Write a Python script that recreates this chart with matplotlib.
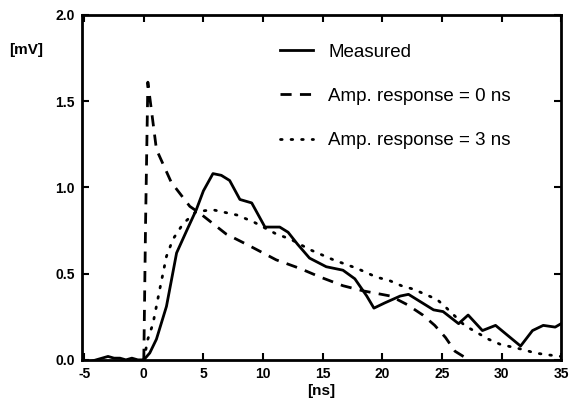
import matplotlib
matplotlib.use("Agg")
import matplotlib.pyplot as plt

plt.rcParams['font.family'] = ['Liberation Sans', 'DejaVu Sans']

# Measured signal
meas_x = [-5, -4.5, -4, -3.5, -3, -2.5, -2, -1.5, -1, -0.5, 0, 0.5, 1.06, 1.9, 2.75, 3.6, 4.4, 5.0, 5.8, 6.5, 7.2, 8.06, 9.05, 10.16,
          11.4, 12.1, 12.9, 13.9, 15.3, 16.7, 17.7, 18.7, 19.3, 20.2, 21.5, 22.2, 24.3, 25.1, 26.4, 27.2, 28.4,
          29.5, 31.6, 32.6, 33.5, 34.5, 35.0]
meas_y = [-0.02, -0.01, 0.0, 0.01, 0.02, 0.01, 0.01, 0.0, 0.01, 0.0, 0.0, 0.04, 0.12, 0.31, 0.62, 0.75, 0.87, 0.98, 1.08, 1.07, 1.04, 0.93, 0.91, 0.77,
          0.77, 0.74, 0.67, 0.59, 0.54, 0.52, 0.47, 0.37, 0.30, 0.33, 0.37, 0.38, 0.29, 0.28, 0.21, 0.26, 0.17,
          0.20, 0.08, 0.17, 0.20, 0.19, 0.21]

# Amp. response = 0 ns
resp0_x = [0.0, 0.15, 0.34, 1.06, 2.3, 3.86, 4.7, 6.9, 8.9, 11.1, 13.1, 14.8, 16.7, 18.4, 20.7, 22.1, 23.4,
           24.4, 25.3, 26.1, 26.8, 27.3]
resp0_y = [0.0, 0.8, 1.61, 1.22, 1.03, 0.89, 0.85, 0.73, 0.66, 0.58, 0.53, 0.48, 0.43, 0.40, 0.37, 0.32, 0.26,
           0.20, 0.13, 0.05, 0.02, 0.0]

# Amp. response = 3 ns
resp3_x = [0.0, 0.34, 0.77, 1.34, 1.9, 2.45, 3.3, 4.4, 5.8, 7.8, 9.2, 11.1, 12.3, 13.9, 15.9, 17.9, 19.5,
           20.6, 21.6, 22.6, 24.6, 25.4, 26.9, 27.9, 28.9, 29.9, 31.8, 32.8, 33.8, 35.0]
resp3_y = [0.0, 0.12, 0.21, 0.41, 0.60, 0.70, 0.79, 0.86, 0.87, 0.84, 0.80, 0.73, 0.70, 0.64, 0.58, 0.53, 0.48,
           0.46, 0.43, 0.41, 0.35, 0.30, 0.20, 0.16, 0.12, 0.09, 0.06, 0.04, 0.03, 0.02]

x_ticks = [-5, 0, 5, 10, 15, 20, 25, 30, 35]
x_tick_labels = ["-5", "0", "5", "10", "15", "20", "25", "30", "35"]
y_ticks = [0.0, 0.5, 1.0, 1.5, 2.0]
y_tick_labels = ["0.0", "0.5", "1.0", "1.5", "2.0"]

fig = plt.figure(figsize=(5.72, 4.03), dpi=100)
ax = fig.add_axes([0.143, 0.107, 0.838, 0.856])

ax.plot(meas_x, meas_y, color='black', lw=2.0, ls='-', label='Measured')
ax.plot(resp0_x, resp0_y, color='black', lw=2.0, ls=(0, (4, 3)), label='Amp. response = 0 ns')
ax.plot(resp3_x, resp3_y, color='black', lw=2.0, ls=(0, (0.6, 3.2)), dash_capstyle='round',
        label='Amp. response = 3 ns')

ax.set_xlim(-5.2, 35)
ax.set_ylim(0, 2.0)
ax.set_xticks(x_ticks)
ax.set_xticklabels(x_tick_labels, fontweight='bold', fontsize=10)
ax.set_yticks(y_ticks)
ax.set_yticklabels(y_tick_labels, fontweight='bold', fontsize=10)
ax.tick_params(direction='in', length=5, width=1.5, top=True, right=True, pad=5)
for s in ax.spines.values():
    s.set_linewidth(2.0)

ax.set_xlabel('[ns]', fontweight='bold', fontsize=11, labelpad=2)
fig.text(0.045, 0.875, '[mV]', fontweight='bold', fontsize=11, ha='center', va='center')

leg = ax.legend(loc='upper left', bbox_to_anchor=(0.398, 0.939), borderaxespad=0, frameon=False,
                fontsize=13.5, handlelength=1.76, handletextpad=0.8, labelspacing=1.45)

fig.savefig('out.png', dpi=100)
